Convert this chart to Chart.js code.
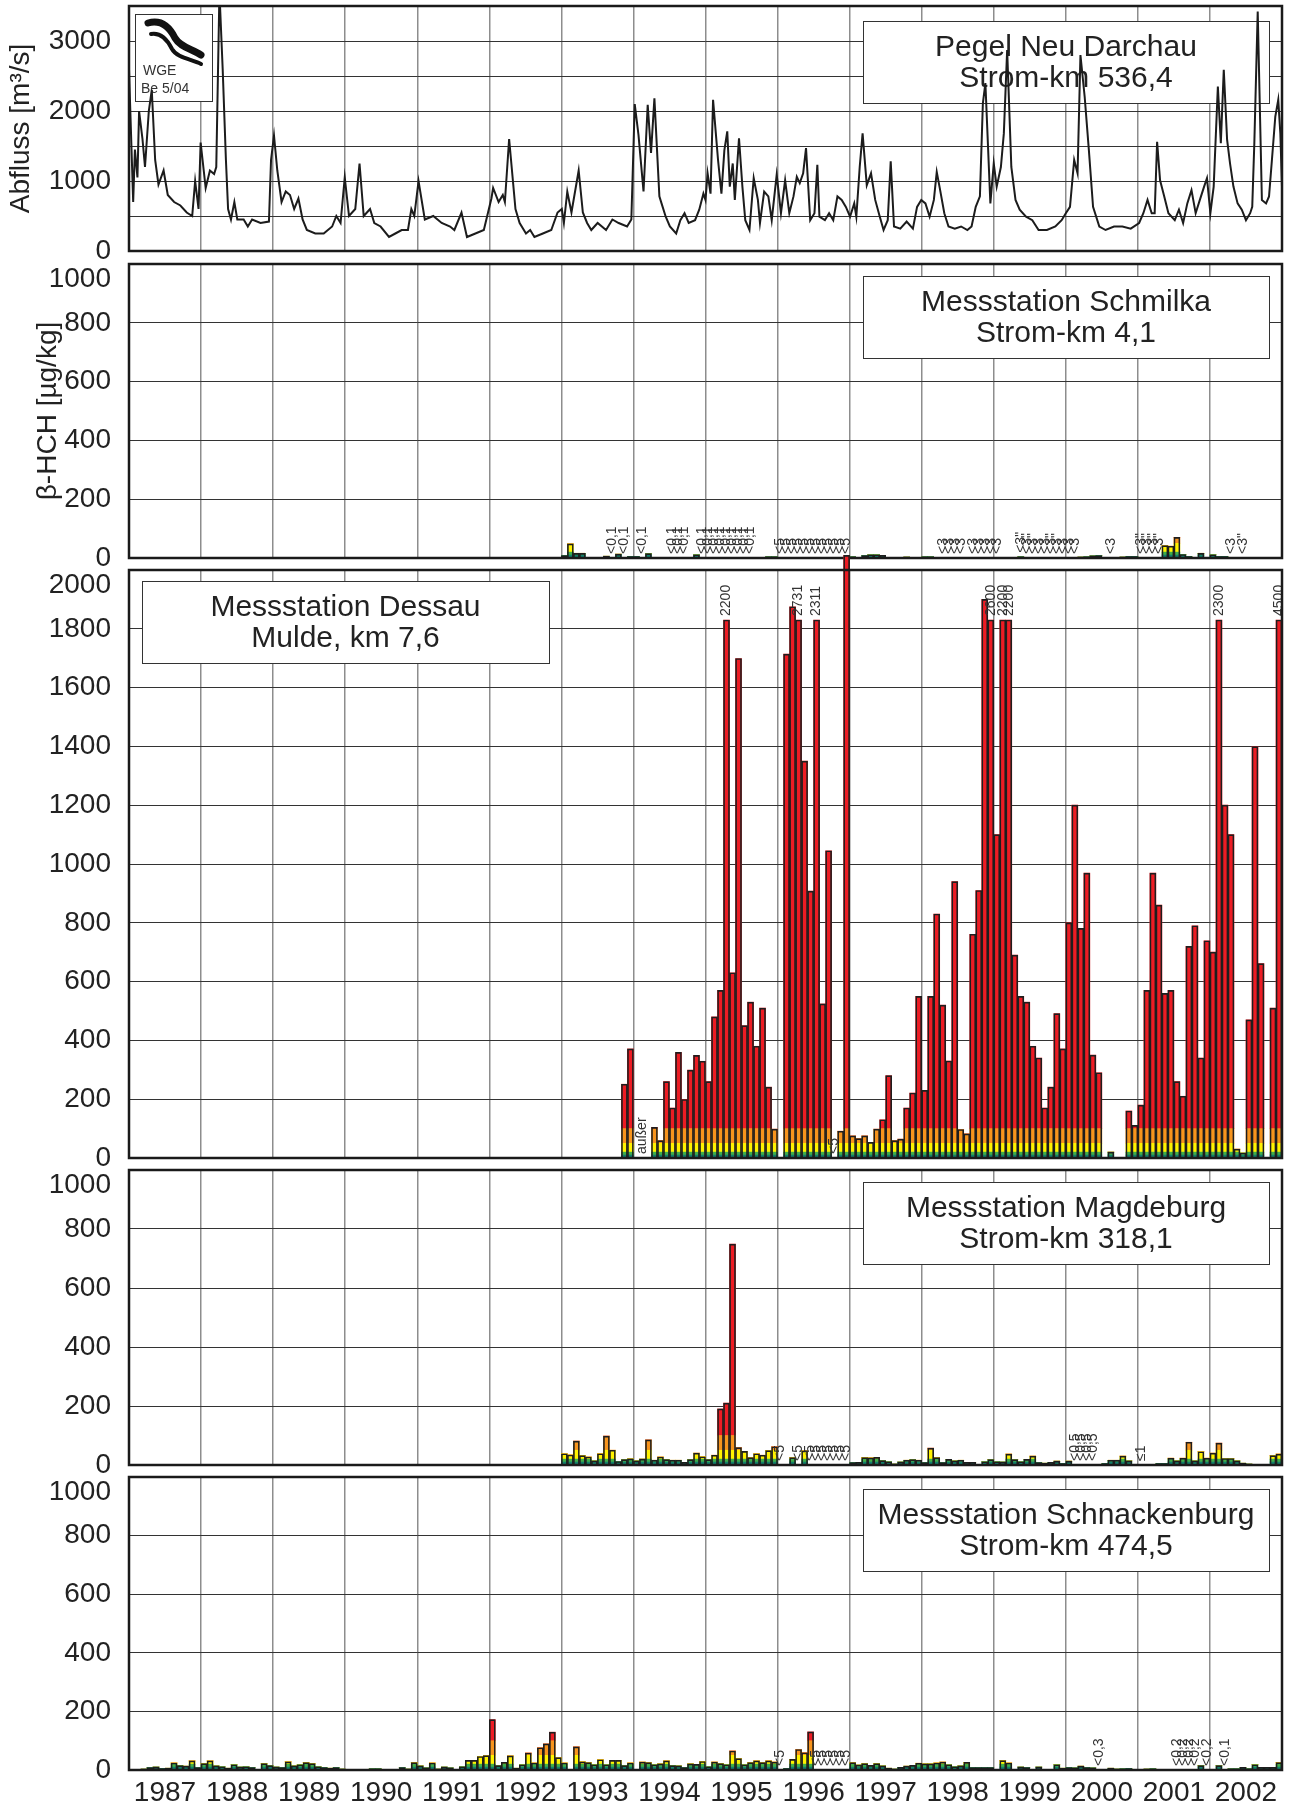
<!DOCTYPE html>
<html>
<head>
<meta charset="utf-8">
<script src="https://cdn.jsdelivr.net/npm/chart.js@4.4.1/dist/chart.umd.min.js"></script>
<style>
  body { margin: 0; background: #fff; }
  #wrap { position: relative; width: 1294px; height: 1809px; overflow: hidden; }
  #wrap canvas { position: absolute; left: 0; }
</style>
</head>
<body>
<div id="wrap"></div>
<script>
// x axis: one label per year, grid lines at Jan 1st
const years = [1987, 1988, 1989, 1990, 1991, 1992, 1993, 1994, 1995, 1996, 1997, 1998, 1999, 2000, 2001, 2002];

// Pegel Neu Darchau, discharge [m3/s] (time as decimal year)
const abflussT = [
  1987.000, 1987.058, 1987.082, 1987.117, 1987.140, 1987.187, 1987.222, 1987.275, 1987.316, 1987.363, 1987.409, 1987.480, 1987.538, 1987.626, 1987.713, 1987.801, 1987.877, 1987.918, 1987.965, 1987.994,
  1988.064, 1988.123, 1988.181, 1988.211, 1988.255, 1988.300, 1988.345, 1988.375, 1988.415, 1988.462, 1988.503, 1988.591, 1988.649, 1988.708, 1988.825, 1988.942, 1988.971,
  1989.012, 1989.058, 1989.117, 1989.175, 1989.234, 1989.292, 1989.351, 1989.409, 1989.468, 1989.585, 1989.702, 1989.819, 1989.877, 1989.936, 1989.994,
  1990.053, 1990.140, 1990.199, 1990.257, 1990.345, 1990.404, 1990.491, 1990.608, 1990.696, 1990.784, 1990.871, 1990.918, 1990.959,
  1991.018, 1991.105, 1991.222, 1991.339, 1991.456, 1991.515, 1991.614, 1991.690, 1991.807, 1991.924,
  1992.029, 1992.053, 1992.129, 1992.187, 1992.216, 1992.275, 1992.363, 1992.421, 1992.509, 1992.567, 1992.626, 1992.743, 1992.860, 1992.947,
  1993.006, 1993.035, 1993.082, 1993.140, 1993.240, 1993.298, 1993.357, 1993.415, 1993.503, 1993.620, 1993.708, 1993.795, 1993.912, 1993.971,
  1994.018, 1994.070, 1994.140, 1994.198, 1994.244, 1994.291, 1994.360, 1994.390, 1994.448, 1994.506, 1994.593, 1994.651, 1994.709, 1994.767, 1994.855, 1994.913, 1994.971,
  1995.000, 1995.029, 1995.070, 1995.105, 1995.174, 1995.221, 1995.262, 1995.302, 1995.337, 1995.378, 1995.407, 1995.465, 1995.512, 1995.552, 1995.610, 1995.669, 1995.727, 1995.756, 1995.814, 1995.872, 1995.919, 1995.988,
  1996.047, 1996.105, 1996.163, 1996.221, 1996.267, 1996.308, 1996.355, 1996.395, 1996.453, 1996.512, 1996.552, 1996.581, 1996.657, 1996.715, 1996.773, 1996.831, 1996.890, 1996.948,
  1997.006, 1997.064, 1997.093, 1997.140, 1997.180, 1997.238, 1997.297, 1997.355, 1997.413, 1997.471, 1997.529, 1997.570, 1997.616, 1997.703, 1997.791, 1997.878, 1997.936, 1997.994,
  1998.052, 1998.110, 1998.169, 1998.209, 1998.256, 1998.314, 1998.372, 1998.459, 1998.547, 1998.634, 1998.692, 1998.750, 1998.808, 1998.849, 1998.884, 1998.953,
  1999.000, 1999.041, 1999.099, 1999.140, 1999.186, 1999.244, 1999.302, 1999.360, 1999.448, 1999.535, 1999.622, 1999.738, 1999.855, 1999.942,
  2000.000, 2000.058, 2000.116, 2000.163, 2000.203, 2000.262, 2000.320, 2000.378, 2000.465, 2000.552, 2000.669, 2000.785, 2000.901,
  2001.017, 2001.076, 2001.134, 2001.192, 2001.233, 2001.267, 2001.308, 2001.366, 2001.424, 2001.512, 2001.570, 2001.628, 2001.686, 2001.744, 2001.802, 2001.860, 2001.919, 2001.959,
  2002.006, 2002.052, 2002.110, 2002.151, 2002.192, 2002.238, 2002.279, 2002.326, 2002.384, 2002.442, 2002.500, 2002.558, 2002.587, 2002.616, 2002.663, 2002.721, 2002.779, 2002.820, 2002.860, 2002.907, 2002.948, 2002.977, 2003.000
];
const abflussQ = [
  2600, 700, 1450, 1050, 2000, 1600, 1200, 2000, 2300, 1300, 950, 1150, 800, 700, 650, 550, 500, 1000, 600, 1550,
  900, 1150, 1100, 1200, 3700, 2600, 1300, 600, 450, 700, 450, 450, 350, 450, 400, 420, 1300,
  1650, 1150, 700, 850, 800, 600, 750, 450, 300, 250, 250, 350, 500, 400, 1050,
  500, 600, 1250, 500, 600, 400, 350, 200, 250, 300, 300, 600, 500,
  1000, 450, 500, 400, 350, 300, 550, 200, 250, 300,
  750, 900, 700, 800, 700, 1600, 600, 400, 250, 300, 200, 250, 300, 550,
  600, 400, 850, 550, 1150, 550, 400, 300, 400, 300, 450, 400, 350, 450,
  2100, 1660, 850, 2090, 1400, 2180, 780, 680, 490, 350, 250, 440, 540, 400, 440, 590, 820,
  730, 1110, 820, 2160, 1300, 820, 1440, 1710, 920, 1250, 730, 1610, 920, 440, 300, 1040, 730, 400, 850, 780, 440, 1090,
  540, 1010, 540, 780, 1060, 970, 1110, 1470, 440, 540, 1230, 490, 440, 540, 440, 780, 730, 630,
  490, 680, 490, 1200, 1680, 940, 1110, 730, 510, 300, 440, 1280, 350, 320, 420, 320, 630, 730,
  680, 490, 730, 1130, 870, 540, 350, 320, 350, 300, 350, 630, 780, 2110, 2400, 680,
  1250, 920, 1200, 1680, 2870, 1200, 730, 590, 490, 440, 300, 300, 350, 440,
  540, 630, 1300, 1110, 2800, 2200, 1440, 630, 350, 300, 350, 350, 320,
  400, 540, 730, 540, 540, 1560, 1010, 780, 540, 440, 590, 400, 680, 870, 540, 730, 920, 1040,
  540, 920, 2350, 1540, 2590, 1590, 1250, 920, 680, 590, 440, 540, 630, 1540, 3420, 730, 680, 780, 1300, 1920, 2160, 1680, 920
];

// beta-HCH [µg/kg], monthly values from January of the start year, null = no value
const schmilkaStart = 1993;
const schmilka = [
  8, 48, 16, 16, null, null, null, 6, null, 13, null, 5,              // 1993
  5, null, 15, 2, 2, 2, null, null, null, null, 11, null,             // 1994
  null, null, null, null, null, null, null, null, null, null, 4, 4,   // 1995
  null, null, null, null, null, null, null, null, null, null, null, null,
  4, 2, 8, 11, 11, 9, null, null, null, 3, null, null,                // 1997
  4, 4, null, null, null, null, null, 1, null, null, null, null,      // 1998
  null, 2, null, null, 4, null, null, null, null, null, null, null,   // 1999
  null, null, 3, 4, 7, 8, null, null, 2, 3, 5, 5,                     // 2000
  null, null, null, null, 42, 40, 70, 12, 5, 2, 16, 2,                // 2001
  11, 5, 5, null, 1, null, null, null, null, null, null, null         // 2002
];
const dessauStart = 1993;
const dessau = [
  null, null, null, null, null, null, null, null, null, null, 251, 371,   // 1993
  null, null, null, 104, 59, 260, 170, 359, 199, 299, 349, 329,           // 1994
  260, 480, 570, 2200, 630, 1699, 450, 530, 380, 510, 241, 98,            // 1995
  null, 1714, 1875, 2731, 1350, 908, 2311, 524, 1045, null, 91, 2050,     // 1996
  75, 66, 75, 53, 98, 130, 280, 59, 64, 170, 221, 550,                    // 1997
  230, 550, 830, 520, 330, 940, 97, 82, 761, 910, 1900, 2600,             // 1998
  1100, 2200, 2200, 690, 550, 530, 380, 340, 170, 241, 491, 371,          // 1999
  800, 1200, 781, 969, 350, 290, 2, 20, null, null, 160, 111,             // 2000
  180, 570, 969, 860, 560, 570, 260, 210, 720, 790, 340, 739,             // 2001
  700, 2300, 1200, 1100, 30, 17, 470, 1399, 661, null, 510, 4500          // 2002
];
const magdeburgStart = 1993;
const magdeburg = [
  38, 34, 81, 32, 27, 14, 38, 98, 50, 12, 18, 21,                     // 1993
  14, 20, 85, 16, 27, 18, 16, 16, 9, 18, 40, 28,                      // 1994
  18, 33, 190, 210, 749, 59, 46, 25, 38, 33, 49, 62,                  // 1995
  null, null, 25, null, 48, null, null, null, null, null, null, null, // 1996
  8, 9, 25, 24, 26, 15, 11, 3, 10, 16, 18, 16,                        // 1997
  8, 57, 25, 8, 19, 14, 16, 9, 9, 2, 11, 18,                          // 1998
  11, 10, 37, 18, 11, 19, 30, 8, 6, 9, 13, 5,                         // 1999
  13, null, null, null, null, 2, 5, 16, 16, 30, 14, null,             // 2000
  null, null, null, 5, 5, 23, 14, 23, 77, 14, 45, 23,                 // 2001
  40, 74, 22, 22, 14, 6, 3, 2, 2, 1, 32, 37                           // 2002
];
const schnackenburgStart = 1987;
const schnackenburg = [
  2, 2, 3, 8, 10, 5, 6, 24, 15, 13, 31, 8,                  // 1987
  22, 31, 14, 11, 6, 18, 10, 11, 8, 2, 22, 15,              // 1988
  10, 8, 28, 14, 18, 25, 22, 11, 8, 6, 8, 3,                // 1989
  null, null, null, null, 4, 4, 2, 2, 1, 8, 3, 25,          // 1990
  14, 7, 24, 3, 10, 7, 2, 11, 33, 33, 46, 49,               // 1991
  172, 15, 26, 48, 6, 18, 58, 24, 76, 89, 129, 42,          // 1992
  24, null, 79, 28, 25, 18, 35, 18, 33, 33, 15, 24,         // 1993
  2, 27, 25, 18, 21, 31, 15, 14, 8, 21, 19, 29,             // 1994
  11, 27, 22, 18, 65, 39, 18, 25, 31, 25, 31, 27,           // 1995
  null, 5, 36, 70, 59, 130, null, null, null, null, null, null, // 1996
  25, 17, 22, 16, 22, 14, 6, 3, 9, 13, 16, 23,              // 1997
  21, 21, 24, 27, 18, 11, 14, 26, 8, 8, 8, 8,               // 1998
  1, 32, 24, 2, 10, 8, 1, 10, 1, 1, 18, 6,                  // 1999
  8, 7, 13, 8, 7, null, 1, 6, 3, 4, 5, 1,                   // 2000
  1, 3, 4, 1, 1, null, null, null, null, null, 15, null,    // 2001
  null, 15, null, 4, 4, 9, 4, 18, 9, 9, 9, 25               // 2002
];

// written notes above the bars: [year, first month, last month, text]
const schmilkaNotes = [
  [1993, 8, 8, '<0,1'], [1993, 10, 10, '<0,1'], [1994, 1, 1, '<0,1'], [1994, 6, 8, '<0,1'], [1994, 11, 19, '<0,1'],
  [1996, 0, 11, '<5'], [1998, 3, 6, '<3'], [1998, 8, 12, '<3'], [1999, 4, 6, '<3"'], [1999, 7, 8, '<3'],
  [1999, 9, 10, '<3"'], [1999, 11, 13, '<3'], [2000, 7, 7, '<3'], [2001, 0, 3, '<3"'], [2002, 3, 3, '<3'], [2002, 5, 5, '<3"']
];
const dessauNotes = [[1994, 1, 1, 'außer'], [1996, 9, 9, '<5']];
const magdeburgNotes = [[1996, 0, 0, '<5'], [1996, 3, 3, '<5'], [1996, 5, 11, '<5'], [2000, 1, 4, '<0,5'], [2001, 0, 0, '≤1']];
const schnackenburgNotes = [[1996, 0, 0, '<5'], [1996, 6, 11, '<5'], [2000, 5, 5, '<0,3'], [2001, 6, 9, '<0,2'], [2001, 11, 11, '<0,2'], [2002, 2, 2, '<0,1']];

// quality classes: upper limit and colour of each band
const bandLimits = [10, 20, 50, 100, Infinity];
const bandColors = ['#12806b', '#40ae49', '#fff200', '#f7941d', '#ed1c24'];

Chart.defaults.font.family = "'Liberation Sans', Arial, sans-serif";
Chart.defaults.color = '#222';

const FONT = "'Liberation Sans', Arial, sans-serif";
const PLOT_LEFT = 129;

const monthX = (year, m) => year + (m + 0.5) / 12;

function monthlyPoints(start, values, cap) {
  const pts = [];
  values.forEach((v, i) => {
    if (v === null) return;
    pts.push({ x: monthX(start + Math.floor(i / 12), i % 12), v, h: cap ? cap(v) : v });
  });
  return pts;
}

function expandNotes(list, pts) {
  const out = [];
  list.forEach(([y, m0, m1, text]) => {
    for (let m = m0; m <= m1; m++) {
      const x = monthX(y, m);
      const p = pts.find(q => Math.abs(q.x - x) < 0.01);
      out.push({ x, text, base: p ? p.h : 0 });
    }
  });
  return out;
}

function barDatasets(pts, clip) {
  let lo = 0;
  const sets = bandLimits.map((hi, k) => {
    const from = lo; lo = hi;
    return {
      data: pts.map(p => ({ x: p.x, y: Math.max(0, Math.min(p.h, hi) - from) })),
      backgroundColor: bandColors[k], borderWidth: 0, stack: 'bands',
      categoryPercentage: 1, barPercentage: 1, clip
    };
  });
  // dark outline round every bar, drawn over the colour bands
  sets.push({
    data: pts.map(p => ({ x: p.x, y: p.h })),
    backgroundColor: 'rgba(0,0,0,0)', borderColor: '#1e1e1e', borderWidth: 1, borderSkipped: 'bottom',
    stack: 'outline', grouped: false, order: -1, categoryPercentage: 1, barPercentage: 1, clip
  });
  return sets;
}

function drawLogo(ctx, x, y) {
  ctx.fillStyle = '#fff';
  ctx.fillRect(x, y, 77, 87);
  ctx.strokeStyle = '#333'; ctx.lineWidth = 1;
  ctx.strokeRect(x + 0.5, y + 0.5, 77, 87);
  ctx.strokeStyle = '#111'; ctx.lineCap = 'round';
  ctx.lineWidth = 7;
  ctx.beginPath(); ctx.moveTo(x + 13, y + 9);
  ctx.bezierCurveTo(x + 27, y + 5, x + 35, y + 14, x + 40, y + 24);
  ctx.bezierCurveTo(x + 45, y + 33, x + 57, y + 35, x + 66, y + 41);
  ctx.stroke();
  ctx.lineWidth = 4;
  ctx.beginPath(); ctx.moveTo(x + 16, y + 20);
  ctx.bezierCurveTo(x + 27, y + 18, x + 33, y + 27, x + 37, y + 35);
  ctx.bezierCurveTo(x + 42, y + 44, x + 56, y + 45, x + 66, y + 50);
  ctx.stroke();
  ctx.fillStyle = '#333'; ctx.font = '14px ' + FONT;
  ctx.textAlign = 'left'; ctx.textBaseline = 'middle';
  ctx.fillText('WGE', x + 8, y + 57);
  ctx.fillText('Be 5/04', x + 6, y + 75);
}

const decor = {
  id: 'decor',
  beforeDatasetsDraw(chart, args, o) {
    const { ctx, chartArea: a } = chart;
    ctx.save();
    if (o.logo) drawLogo(ctx, a.left + 6, a.top + 8);
    if (o.box) {
      const b = o.box;
      const x = a.left + b.dx, y = a.top + b.dy;
      ctx.fillStyle = '#fff';
      ctx.fillRect(x, y, b.w, 82);
      ctx.strokeStyle = '#333'; ctx.lineWidth = 1;
      ctx.strokeRect(x + 0.5, y + 0.5, b.w, 82);
      ctx.fillStyle = '#222'; ctx.font = '30px ' + FONT;
      ctx.textAlign = 'center'; ctx.textBaseline = 'middle';
      ctx.fillText(b.lines[0], x + b.w / 2, y + 27);
      ctx.fillText(b.lines[1], x + b.w / 2, y + 58);
    }
    ctx.restore();
  },
  afterDatasetsDraw(chart, args, o) {
    const { ctx, chartArea: a, scales } = chart;
    ctx.save();
    ctx.font = '14px ' + FONT; ctx.fillStyle = '#333';
    ctx.textAlign = 'left'; ctx.textBaseline = 'middle';
    (o.notes || []).forEach(n => {
      ctx.save();
      ctx.translate(scales.x.getPixelForValue(n.x), scales.y.getPixelForValue(n.base) - 4);
      ctx.rotate(-Math.PI / 2);
      ctx.fillText(n.text, 0, 0);
      ctx.restore();
    });
    ctx.strokeStyle = '#1a1a1a'; ctx.lineWidth = 2.5;
    ctx.strokeRect(a.left, a.top, a.right - a.left, a.bottom - a.top);
    if (o.topLabel) {
      ctx.font = '28px ' + FONT; ctx.fillStyle = '#222'; ctx.textAlign = 'right';
      ctx.fillText(o.topLabel, a.left - 18, a.top + 15);
    }
    ctx.restore();
  }
};

function makeCanvas(top, height) {
  const c = document.createElement('canvas');
  c.width = 1294; c.height = height;
  c.style.top = top + 'px';
  c.style.width = '1294px'; c.style.height = height + 'px';
  document.getElementById('wrap').appendChild(c);
  return c;
}

function opts(p) {
  return {
    responsive: false, animation: false, events: [],
    layout: { padding: { top: p.padTop, bottom: p.xLabels ? 0 : 20, left: 0, right: 12 } },
    plugins: { legend: { display: false }, tooltip: { enabled: false }, decor: p.decor },
    scales: {
      x: {
        type: 'linear', min: 1987, max: 2003, offset: false,
        grid: { offset: false, color: '#8d8d8d', lineWidth: 1.5, drawTicks: false },
        border: { display: false },
        ticks: {
          stepSize: 1, display: !!p.xLabels, autoSkip: false, maxRotation: 0,
          labelOffset: 36, padding: 6, color: '#222', font: { size: 28 },
          callback: v => years.includes(v) ? String(v) : ''
        },
        afterFit: s => { s.height = p.xLabels ? 39 : 0; s.paddingLeft = 0; s.paddingRight = 0; }
      },
      y: {
        min: 0, max: p.yMax, stacked: true,
        grid: { color: '#333', lineWidth: 1, drawTicks: false },
        border: { display: false },
        ticks: { stepSize: p.step, autoSkip: false, padding: 18, color: '#222', font: { size: 28 }, callback: p.tickLabel },
        title: p.title
          ? { display: true, text: p.title.text, color: '#222', font: { size: 28 }, padding: { top: p.title.pad, bottom: 0 } }
          : { display: false },
        afterFit: s => { s.width = PLOT_LEFT; s.paddingTop = 0; s.paddingBottom = 0; }
      }
    }
  };
}

// panel 1: discharge
new Chart(makeCanvas(0, 251 + 20), {
  type: 'line',
  data: {
    datasets: [{
      data: abflussT.map((t, i) => ({ x: t, y: abflussQ[i] })),
      borderColor: '#1c1c1c', borderWidth: 2, pointRadius: 0, tension: 0
    }]
  },
  options: opts({
    padTop: 6, yMax: 3500, step: 500,
    tickLabel: v => (v % 1000 === 0 ? String(v) : ''),
    title: { text: 'Abfluss [m³/s]', pad: 4 },
    decor: { logo: true, box: { dx: 734, dy: 15, w: 406, lines: ['Pegel Neu Darchau', 'Strom-km 536,4'] } }
  }),
  plugins: [decor]
});

function barPanel(top, bottom, start, values, noteList, yMax, cfg) {
  const pts = monthlyPoints(start, values, cfg.cap);
  const notes = expandNotes(noteList, pts);
  if (cfg.cap) pts.filter(p => p.h !== p.v).forEach(p => notes.push({ x: p.x, text: String(p.v), base: p.h }));
  const padTop = 20;
  const c = makeCanvas(top - padTop, bottom - top + padTop + (cfg.xLabels ? 39 : 20));
  new Chart(c, {
    type: 'bar',
    data: { datasets: barDatasets(pts, cfg.clip) },
    options: opts({
      padTop, yMax, step: 200, xLabels: cfg.xLabels,
      tickLabel: v => (v === yMax ? '' : String(v)),
      title: cfg.title,
      decor: { box: cfg.box, notes, topLabel: String(yMax) }
    }),
    plugins: [decor]
  });
}

barPanel(264, 558, schmilkaStart, schmilka, schmilkaNotes, 1000, {
  title: { text: 'β-HCH [µg/kg]', pad: 31 },
  box: { dx: 734, dy: 12, w: 406, lines: ['Messstation Schmilka', 'Strom-km 4,1'] }
});
barPanel(570, 1158, dessauStart, dessau, dessauNotes, 2000, {
  cap: v => (v > 2100 ? 1830 : v), clip: false,
  box: { dx: 13, dy: 11, w: 407, lines: ['Messstation Dessau', 'Mulde, km 7,6'] }
});
barPanel(1170, 1465, magdeburgStart, magdeburg, magdeburgNotes, 1000, {
  box: { dx: 734, dy: 12, w: 406, lines: ['Messstation Magdeburg', 'Strom-km 318,1'] }
});
barPanel(1477, 1770, schnackenburgStart, schnackenburg, schnackenburgNotes, 1000, {
  xLabels: true,
  box: { dx: 734, dy: 12, w: 406, lines: ['Messstation Schnackenburg', 'Strom-km 474,5'] }
});
</script>
</body>
</html>
